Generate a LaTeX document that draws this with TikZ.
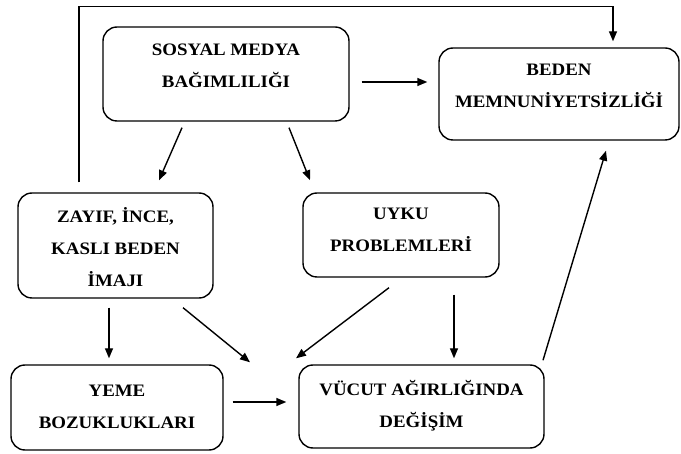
\documentclass[tikz,border=0pt]{standalone}
\usepackage{fontspec}
\setmainfont{Liberation Serif}[FakeStretch=1.08]
\usetikzlibrary{arrows.meta,calc,positioning}

\begin{document}
\begin{tikzpicture}[x=1pt, y=-1pt, line width=1.4pt, >={Triangle[length=10pt,width=8pt]}]
	\path [use as bounding box] (0,0) rectangle (681,454);
	\tikzstyle{box} = [draw, rounded corners=14pt, inner sep=0pt]
	\tikzstyle{txt} = [align=center, inner sep=0pt, font=\fontsize{17.5}{32}\selectfont\bfseries]
	% boxes
	\node[box, minimum width=246pt, minimum height=94pt] (smb) at (226,74) {};
	\node[box, minimum width=240pt, minimum height=92pt] (beden) at (559,94) {};
	\node[box, minimum width=195pt, minimum height=105pt] (zayif) at (115.5,245.5) {};
	\node[box, minimum width=196pt, minimum height=84pt] (uyku) at (401,235) {};
	\node[box, minimum width=212pt, minimum height=85pt] (yeme) at (117,407.5) {};
	\node[box, minimum width=245pt, minimum height=83pt] (vucut) at (421.5,406.5) {};
	% texts
	\node[txt] (smbtext) at ($(smb.center)+(0,-8)$) {SOSYAL MEDYA\\BAĞIMLILIĞI};
	\node[txt] (bedentext) at ($(beden.center)+(0,-8)$) {BEDEN\\MEMNUNİYETSİZLİĞİ};
	\node[txt] (zayiftext) at ($(zayif.center)+(0,2)$) {ZAYIF, İNCE,\\KASLI BEDEN\\İMAJI};
	\node[txt] (uykutext) at ($(uyku.center)+(0,-5)$) {UYKU\\PROBLEMLERİ};
	\node[txt] (yemetext) at ($(yeme.center)+(0,-1)$) {YEME\\BOZUKLUKLARI};
	\node[txt] (vucuttext) at ($(vucut.center)+(0,-1)$) {VÜCUT AĞIRLIĞINDA\\DEĞİŞİM};
	% arrows
	\draw[->] ($(zayif.north)+(-36.5,-10)$) |- ($(beden.north)+(54,-41)$) -- ($(beden.north)+(54,-6)$);
	\draw[->] ($(smb.east)+(12,8)$) -- ($(beden.west)+(-11,-12)$);
	\draw[->] ($(smb.south)+(-44,6)$) -- ($(zayif.north)+(43.5,-12)$);
	\draw[->] ($(smb.south)+(63,6)$) -- ($(uyku.north)+(-91,-12)$);
	\draw[->] ($(zayif.south)+(-6.5,9)$) -- ($(yeme.north)+(-8,-6)$);
	\draw[->] ($(zayif.south)+(67.5,9)$) -- ($(vucut.north)+(-171.5,-2)$);
	\draw[->] ($(uyku.south)+(-12,10)$) -- ($(vucut.north)+(-125.5,-6)$);
	\draw[->] ($(uyku.south)+(53,17)$) -- ($(vucut.north)+(32.5,-6)$);
	\draw[->] ($(yeme.east)+(9,-5.5)$) -- ($(vucut.west)+(-12,-4.5)$);
	\draw[->] ($(vucut.north)+(121.5,-4)$) -- ($(beden.south)+(47,10)$);
\end{tikzpicture}
\end{document}
